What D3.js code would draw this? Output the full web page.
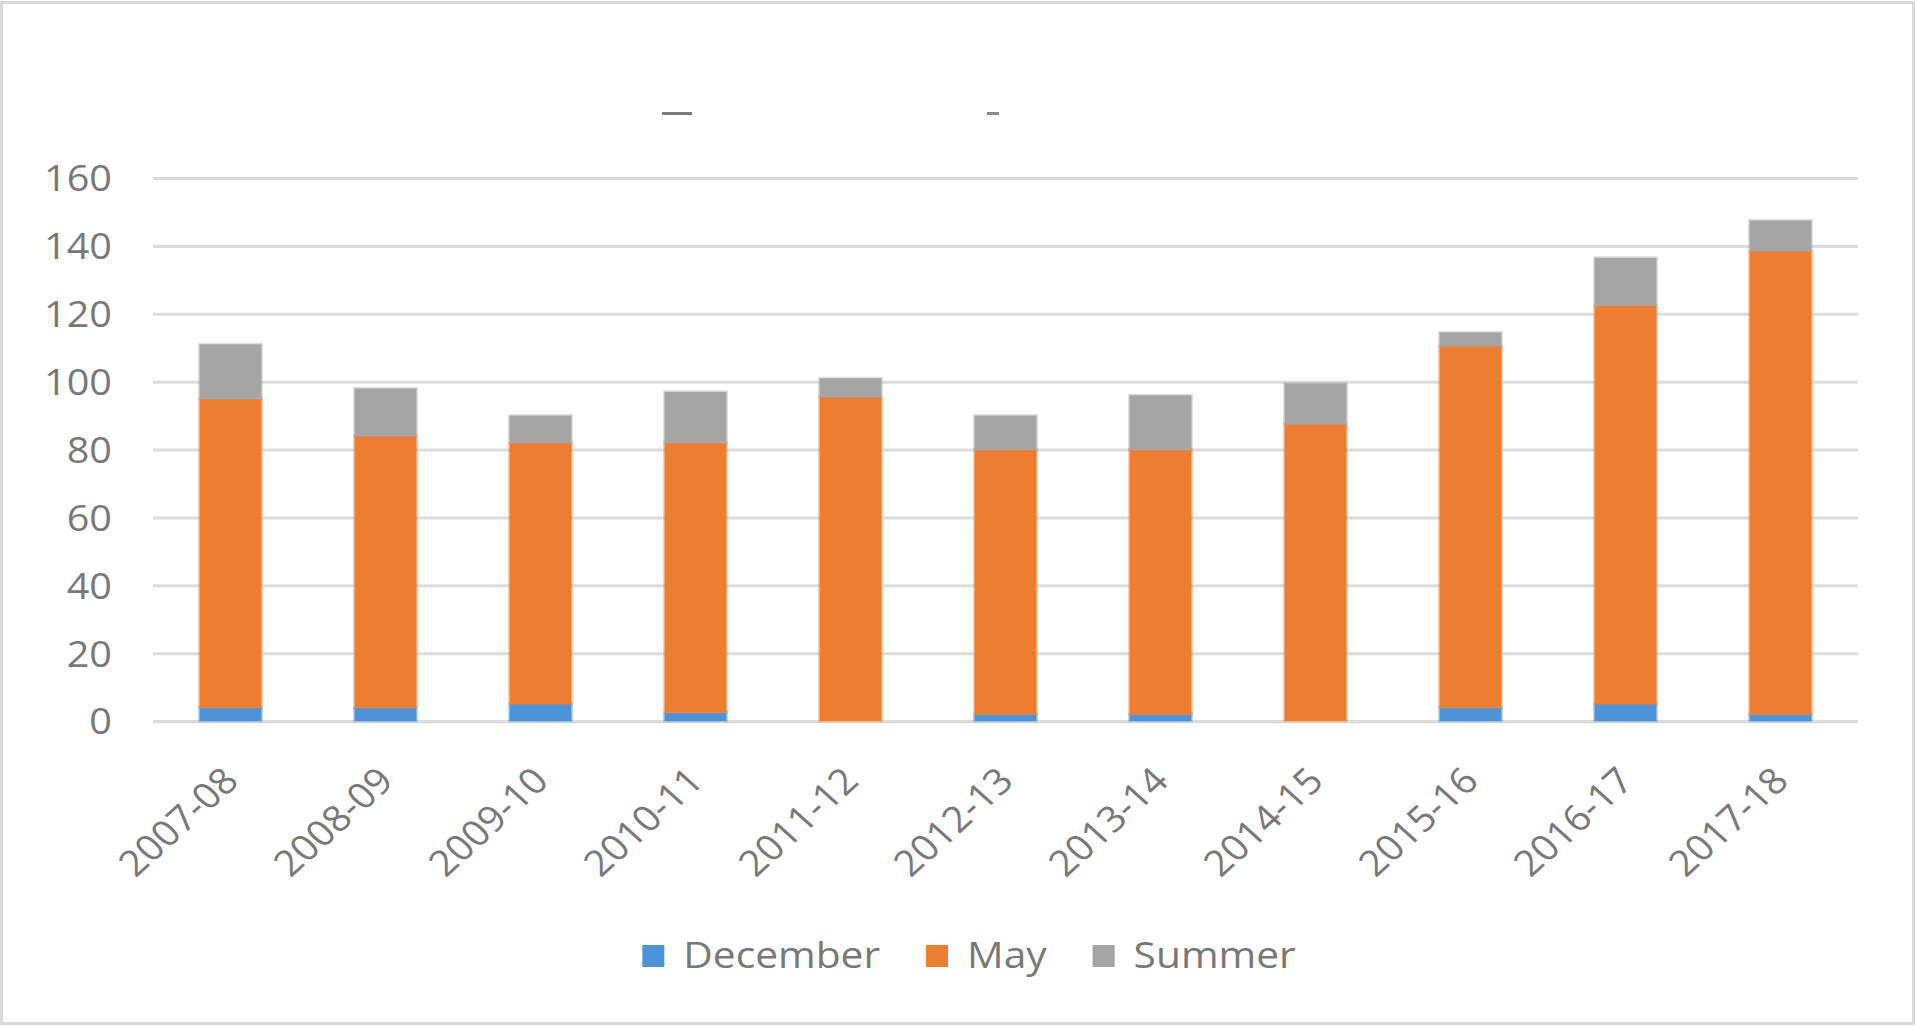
<!DOCTYPE html>
<html>
<head>
<meta charset="utf-8">
<script src="https://cdn.jsdelivr.net/npm/d3@7"></script>
<style>
  html, body { margin: 0; padding: 0; background: #fff; }
  svg { display: block; }
  text { font-family: "Open Sans", sans-serif; fill: #787878; }
</style>
</head>
<body>
<div id="chart"></div>
<script>
// school years
const CATEGORIES = ["2007-08", "2008-09", "2009-10", "2010-11", "2011-12", "2012-13",
  "2013-14", "2014-15", "2015-16", "2016-17", "2017-18"];

const DECEMBER = [4, 4, 5, 2.5, 0, 2, 2, 0, 4, 5, 2];
const MAY = [91, 80, 77, 79.5, 95.5, 78, 78, 87.5, 106.5, 117.5, 136.5];
const SUMMER = [16, 14, 8, 15, 5.5, 10, 16, 12, 4, 14, 9];

const SERIES = ["December", "May", "Summer"];
const COLORS = ["#4e92d8", "#ed7d31", "#a5a5a5"];
const Y_TICKS = [0, 20, 40, 60, 80, 100, 120, 140, 160];

const W = 1916, H = 1026;
const margin = { top: 178, right: 58, bottom: 305, left: 153 };
const width = W - margin.left - margin.right;
const height = H - margin.top - margin.bottom;
const stretch = 1.1; // the picture is a bit wider than tall

const rows = CATEGORIES.map((c, i) => ({
  cat: c,
  December: DECEMBER[i],
  May: MAY[i],
  Summer: SUMMER[i],
}));

const stacked = d3.stack().keys(SERIES)(rows);

const x = d3.scaleBand().domain(CATEGORIES).range([0, width])
  .paddingInner(0.6).paddingOuter(0.3);
const y = d3.scaleLinear().domain([0, 160]).range([height, 0]);
const color = d3.scaleOrdinal().domain(SERIES).range(COLORS);

const svg = d3.select("#chart").append("svg")
  .attr("width", W).attr("height", H);

// outer frame
svg.append("rect")
  .attr("x", 1.5).attr("y", 2.5)
  .attr("width", W - 4).attr("height", H - 5)
  .attr("fill", "#fff").attr("stroke", "#d9d9d9").attr("stroke-width", 3);

// what is left of the clipped title
svg.append("rect").attr("x", 662).attr("y", 112).attr("width", 30).attr("height", 3).attr("fill", "#7a7a7a");
svg.append("rect").attr("x", 987).attr("y", 112).attr("width", 12).attr("height", 3).attr("fill", "#8a8a8a");

const g = svg.append("g").attr("transform", `translate(${margin.left},${margin.top})`);

// gridlines
g.append("g")
  .attr("class", "grid")
  .call(d3.axisLeft(y).tickValues(Y_TICKS).tickSize(-width).tickFormat(""))
  .call((s) => s.select(".domain").remove())
  .call((s) => s.selectAll("line").attr("stroke", "#dcdcdc").attr("stroke-width", 3));

// y labels
g.append("g")
  .call(d3.axisLeft(y).tickValues(Y_TICKS).tickSize(0).tickPadding(0))
  .call((s) => s.select(".domain").remove())
  .call((s) => s.selectAll("text")
    .attr("x", -41 / stretch)
    .attr("dy", "0.36em")
    .attr("transform", `scale(${stretch},1)`)
    .style("font-size", "36px")
    .attr("fill", null));

// bars
g.append("g")
  .selectAll("g")
  .data(stacked)
  .join("g")
  .attr("fill", (d) => color(d.key))
  .attr("stroke", (d) => color(d.key))
  .attr("stroke-opacity", 0.35)
  .attr("stroke-width", 3)
  .selectAll("rect")
  .data((d) => d.filter((p) => p[1] - p[0] > 0))
  .join("rect")
  .attr("x", (d) => x(d.data.cat))
  .attr("y", (d) => y(d[1]))
  .attr("width", x.bandwidth())
  .attr("height", (d) => y(d[0]) - y(d[1]));

// x labels
g.append("g")
  .attr("transform", `translate(0,${height})`)
  .call(d3.axisBottom(x).tickSize(0))
  .call((s) => s.select(".domain").remove())
  .call((s) => s.selectAll("text")
    .attr("x", 0).attr("y", 0).attr("dy", 0)
    .attr("text-anchor", "end")
    .attr("transform", `translate(10,62) scale(${stretch},1) rotate(-45)`)
    .style("font-size", "36px")
    .attr("fill", null));

// legend
const legend = svg.append("g").attr("transform", "translate(0,968)");
const items = legend.selectAll("g").data(SERIES).join("g");
items.append("rect")
  .attr("y", -23).attr("width", 22).attr("height", 22)
  .attr("fill", (d) => color(d));
items.append("text")
  .attr("transform", `translate(41,0) scale(${stretch},1)`)
  .style("font-size", "37px")
  .text((d) => d);

let cursor = 0;
const offsets = [];
items.each(function () {
  offsets.push(cursor);
  const w = 41 + d3.select(this).select("text").node().getComputedTextLength() * stretch;
  cursor += w + 46;
});
const total = cursor - 46;
const start = 969 - total / 2;
items.attr("transform", (d, i) => `translate(${start + offsets[i]},0)`);
</script>
</body>
</html>
